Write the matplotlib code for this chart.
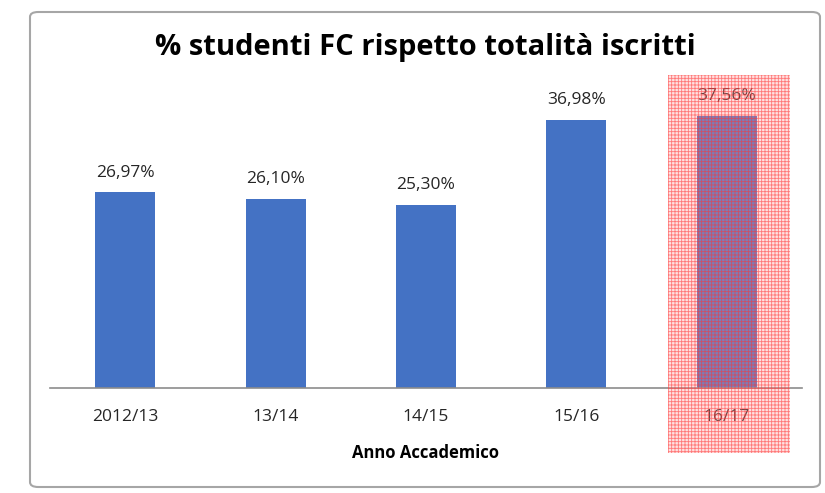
import matplotlib
matplotlib.use("Agg")
import matplotlib.pyplot as plt
from matplotlib.patches import Rectangle, FancyBboxPatch

categories = ["2012/13", "13/14", "14/15", "15/16", "16/17"]
values = [26.97, 26.10, 25.30, 36.98, 37.56]
labels = ["26,97%", "26,10%", "25,30%", "36,98%", "37,56%"]
title = "% studenti FC rispetto totalità iscritti"
xlabel = "Anno Accademico"

plt.rcParams["hatch.linewidth"] = 0.6

W, H = 825, 493
fig = plt.figure(figsize=(W / 100, H / 100), dpi=100)
fig.patch.set_facecolor("white")

def fx(px):
    return px / W

def fy(py):
    return 1 - py / H

# outer chart frame
frame = FancyBboxPatch((fx(30), fy(487)), fx(790), (487 - 12) / H,
                       boxstyle="round,pad=0,rounding_size=0.01",
                       transform=fig.transFigure, facecolor="white",
                       edgecolor="#a6a6a6", linewidth=1.5, zorder=-5)
fig.patches.append(frame)

ax = fig.add_axes([fx(50), fy(388), fx(802) - fx(50), (388 - 98) / H])
ax.set_facecolor("none")
ax.set_zorder(1)
x = range(len(categories))
ax.bar(x, values, width=0.4, color="#4472c4", zorder=2)
ax.set_xlim(-0.5, len(categories) - 0.5)
ax.set_ylim(0, 40)
for i, (v, lab) in enumerate(zip(values, labels)):
    ax.text(i, v + 1.6, lab, ha="center", va="bottom", fontsize=12.5,
            color="#262626", family="Open Sans")
ax.set_xticks(list(x))
ax.set_xticklabels(categories, fontsize=12.5, color="#262626", family="Open Sans")
ax.tick_params(axis="x", length=0, pad=15)
ax.set_yticks([])
for s in ["top", "right", "left"]:
    ax.spines[s].set_visible(False)
ax.spines["bottom"].set_color("#8c8c8c")
ax.spines["bottom"].set_linewidth(1.2)
ax.set_xlabel(xlabel, fontsize=12, fontweight="bold", color="black",
              family="Open Sans", labelpad=14)

fig.text(fx(425), fy(48), title, ha="center", va="center", fontsize=21,
         fontweight="bold", family="Open Sans", color="black")

# red hatched highlight over the last category
hl = Rectangle((fx(668), fy(453)), fx(790) - fx(668), (453 - 75) / H,
               transform=fig.transFigure, facecolor=(1, 0.6, 0.6, 0.3),
               edgecolor=(1.0, 0.2, 0.2, 0.6), hatch="+++++", linewidth=0,
               zorder=10)
fig.patches.append(hl)

fig.savefig("out.png", dpi=100)
